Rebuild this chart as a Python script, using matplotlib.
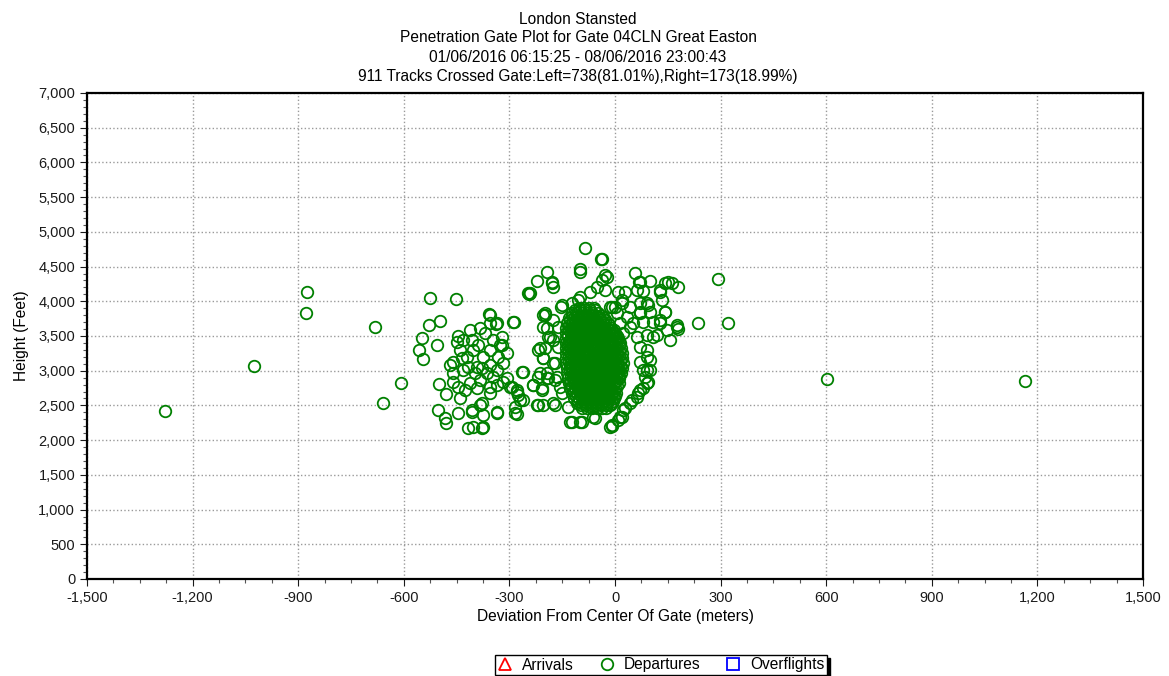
import matplotlib
matplotlib.use("Agg")
import matplotlib.pyplot as plt
from matplotlib.lines import Line2D
from matplotlib.ticker import FuncFormatter, MultipleLocator

plt.rcParams["font.family"] = ["Liberation Sans", "DejaVu Sans"]

title_lines = [
    "London Stansted",
    "Penetration Gate Plot for Gate 04CLN Great Easton",
    "01/06/2016 06:15:25 - 08/06/2016 23:00:43",
    "911 Tracks Crossed Gate:Left=738(81.01%),Right=173(18.99%)",
]

# departures well away from the gate centre, (deviation m, height ft)
outliers = [
    (-1278, 2419), (-1026, 3067), (-875, 4133), (-878, 3830), (-682, 3629),
    (-659, 2534), (-608, 2822), (602, 2880), (1165, 2851), (293, 4320),
    (321, 3686), (236, 3686),
]

# western group, roughly -560 m to -170 m
west_group = [
    (-526, 4046), (-452, 4032), (-528, 3658), (-497, 3715), (-548, 3470),
    (-557, 3298), (-545, 3168), (-506, 3370), (-500, 2808), (-480, 2664),
    (-503, 2434), (-483, 2318), (-480, 2246), (-446, 2390), (-418, 2174),
    (-403, 2189), (-378, 2174), (-406, 2405), (-378, 2534), (-355, 2678),
    (-335, 2390), (-375, 2362), (-440, 2606), (-460, 2837), (-469, 3082),
    (-446, 3499), (-449, 3413), (-412, 3586), (-383, 3614), (-358, 3816),
    (-338, 3672), (-355, 3686), (-369, 3542), (-327, 3370), (-307, 3254),
    (-318, 3110), (-403, 3298), (-420, 3197), (-432, 3010), (-392, 3053),
    (-364, 2966), (-347, 2909), (-383, 2866), (-412, 2822), (-318, 2837),
    (-298, 2765), (-278, 2722), (-276, 2650), (-261, 2578), (-284, 2477),
    (-278, 2376), (-261, 2981), (-287, 3701), (-244, 4104), (-222, 4291),
    (-193, 4421), (-179, 4277), (-176, 4205), (-205, 3802), (-219, 3298),
    (-205, 3182), (-219, 2909), (-233, 2794), (-207, 2750), (-219, 2506),
    (-176, 2534), (-193, 3614), (-176, 3442), (-170, 3110), (-193, 2966),
    (-170, 2866), (-460, 3125), (-435, 3182), (-418, 3053), (-398, 2966),
    (-378, 3038), (-355, 3082), (-335, 3010), (-332, 3197), (-375, 3197),
    (-389, 3370), (-406, 3442), (-432, 3442), (-440, 3298), (-355, 3298),
    (-347, 3442), (-321, 3485), (-460, 2966), (-446, 2765), (-426, 2722),
    (-392, 2750), (-355, 2765), (-335, 2794), (-307, 2894), (-247, 4118),
    (-355, 3802), (-335, 3686), (-290, 3701), (-199, 3802), (-321, 3370),
    (-264, 2981), (-293, 2765), (-278, 2693), (-270, 2578), (-284, 2390),
    (-335, 2405), (-383, 2506), (-406, 2434), (-375, 2189), (-222, 2506),
    (-233, 2794), (-213, 3326), (-213, 2966), (-193, 2894), (-190, 3485),
    (-153, 3917), (-241, 4118),
]

# scattered tracks around the main cluster
fringe = [
    (-85, 4766), (-40, 4608), (-99, 4464), (-23, 4349), (-28, 4162),
    (-71, 4133), (-105, 4018), (-9, 3917), (-37, 4608), (57, 4406),
    (68, 4277), (99, 4291), (80, 4147), (28, 4133), (128, 4133),
    (142, 4262), (151, 4277), (179, 4205), (134, 4018), (94, 3946),
    (142, 3845), (71, 3845), (0, 3917), (20, 4018), (176, 3629),
    (179, 3600), (156, 3442), (128, 3686), (108, 3485), (91, 3298),
    (99, 3154), (91, 3010), (94, 2837), (80, 2750), (65, 2678),
    (48, 2578), (28, 2462), (20, 2333), (9, 2290), (-9, 2203),
    (-128, 2261), (-94, 2261), (-57, 2318), (-14, 2189), (-179, 4262),
    (-99, 4421), (-28, 4378), (-37, 4306), (-51, 4205), (-99, 4061),
    (-150, 3946), (-122, 3974), (71, 4277), (63, 4162), (128, 4162),
    (162, 4262), (9, 4133), (-14, 3917), (20, 3974), (6, 3830),
    (43, 3917), (71, 3974), (91, 3974), (99, 3845), (71, 3830),
    (34, 3773), (51, 3686), (80, 3701), (108, 3701), (142, 3845),
    (128, 3730), (148, 3586), (176, 3658), (119, 3514), (91, 3514),
    (63, 3485), (43, 3629), (14, 3686), (23, 3542), (71, 3341),
    (91, 3197), (80, 3010), (91, 2822), (71, 2722), (63, 2621),
    (43, 2534), (23, 2434), (14, 2333), (-9, 2218), (-99, 2261),
    (-122, 2261), (-62, 2333), (-133, 2477), (-170, 2506), (-150, 2678),
    (-205, 2506), (-207, 2722), (-190, 2894), (-176, 3110), (-205, 3182),
    (-199, 3326), (-185, 3485), (-205, 3629), (-176, 3730), (-199, 3830),
    (-162, 3629), (-162, 3341), (-165, 2909), (-156, 2765), (71, 3125),
    (99, 3010), (85, 2909),
]

# dense core of departures, one entry per height band: (height ft, deviations m)
core_rows = [
    (3905, [-103, -89, -75, -61]),
    (3868, [-114, -100, -85, -71, -56]),
    (3832, [-121, -107, -93, -78, -64, -49]),
    (3795, [-123, -109, -94, -80, -66, -51, -38]),
    (3758, [-130, -116, -102, -87, -73, -59, -44, -31]),
    (3726, [-128, -113, -99, -85, -70, -56, -42, -28]),
    (3694, [-135, -121, -106, -92, -78, -63, -49, -35, -21]),
    (3655, [-131, -117, -102, -88, -74, -59, -45, -31, -17]),
    (3617, [-138, -124, -109, -95, -81, -66, -52, -38, -24, -10]),
    (3580, [-132, -118, -103, -89, -75, -60, -46, -32, -18, -4]),
    (3543, [-139, -125, -111, -96, -82, -68, -53, -39, -25, -11, 1]),
    (3505, [-133, -119, -104, -90, -76, -61, -47, -33, -19, -5, 6]),
    (3468, [-140, -126, -112, -97, -83, -69, -55, -40, -26, -12, 2, 9]),
    (3435, [-132, -118, -104, -89, -75, -61, -46, -32, -18, -3, 10]),
    (3402, [-139, -125, -110, -96, -82, -67, -53, -39, -24, -10, 4, 14]),
    (3364, [-133, -118, -104, -90, -75, -61, -47, -32, -18, -4, 10]),
    (3327, [-140, -126, -111, -97, -83, -68, -54, -40, -25, -11, 3, 18]),
    (3290, [-131, -117, -103, -88, -74, -60, -45, -31, -17, -2, 12]),
    (3253, [-138, -124, -110, -95, -81, -67, -52, -38, -24, -9, 5, 21]),
    (3218, [-132, -117, -103, -89, -74, -60, -46, -31, -17, -3, 12]),
    (3184, [-139, -125, -111, -96, -82, -68, -54, -39, -25, -11, 4, 20]),
    (3146, [-131, -117, -102, -88, -74, -59, -45, -31, -16, -2, 13]),
    (3108, [-138, -124, -109, -95, -81, -66, -52, -38, -23, -9, 6, 22]),
    (3075, [-129, -115, -101, -86, -72, -58, -43, -29, -15, 0, 13]),
    (3041, [-136, -122, -108, -93, -79, -65, -50, -36, -22, -7, 7, 19]),
    (3004, [-128, -114, -100, -85, -71, -57, -42, -28, -14, 1, 12]),
    (2967, [-135, -121, -107, -92, -78, -64, -49, -35, -21, -6, 8, 18]),
    (2930, [-126, -112, -98, -83, -69, -55, -41, -26, -12, 2, 12]),
    (2893, [-133, -119, -105, -90, -76, -62, -48, -33, -19, -5, 10]),
    (2857, [-124, -110, -95, -81, -67, -52, -38, -24, -9, 4]),
    (2822, [-130, -116, -102, -88, -73, -59, -45, -30, -16, -2, 11]),
    (2785, [-121, -107, -92, -78, -64, -49, -35, -21, -6, 6]),
    (2748, [-128, -114, -99, -85, -71, -56, -42, -28, -13, 1]),
    (2714, [-117, -103, -88, -74, -60, -45, -31, -17, -3]),
    (2681, [-122, -108, -94, -79, -65, -51, -36, -22, -8, 3]),
    (2642, [-112, -98, -84, -69, -55, -41, -26, -12, -1]),
    (2604, [-117, -103, -88, -74, -60, -45, -31, -17, -4]),
    (2570, [-105, -91, -76, -62, -48, -33, -19, -6]),
    (2537, [-108, -94, -80, -65, -51, -37, -22, -9]),
    (2499, [-96, -82, -67, -53, -39, -25, -13]),
    (2461, [-93, -79, -64, -50, -36, -25]),
]

dep_x = [p[0] for p in outliers + west_group + fringe]
dep_y = [p[1] for p in outliers + west_group + fringe]
for height, devs in core_rows:
    dep_x.extend(devs)
    dep_y.extend([height] * len(devs))

GREEN = "#008000"
MARKER = dict(linestyle="none", markersize=8.3, markerfacecolor="none",
              markeredgewidth=1.3)

fig = plt.figure(figsize=(11.69, 6.76), dpi=100)
ax = fig.add_axes([87 / 1169, 1 - 579 / 676, (1143 - 87) / 1169, (579 - 93) / 676])

ax.plot(dep_x, dep_y, marker="o", markeredgecolor=GREEN, clip_on=False,
        zorder=3, **MARKER)

ax.set_xlim(-1500, 1500)
ax.set_ylim(0, 7000)
ax.xaxis.set_major_locator(MultipleLocator(300))
ax.xaxis.set_minor_locator(MultipleLocator(75))
ax.yaxis.set_major_locator(MultipleLocator(500))
ax.yaxis.set_minor_locator(MultipleLocator(100))
thousands = FuncFormatter(lambda v, _: f"{int(v):,}")
ax.xaxis.set_major_formatter(thousands)
ax.yaxis.set_major_formatter(thousands)
ax.tick_params(which="major", direction="out", length=5, width=0.8,
               labelsize=10.5, colors="#1a1a1a")
ax.tick_params(which="minor", direction="out", length=3, width=0.8, colors="#555555")
ax.grid(True, which="major", linestyle=":", color="#9a9a9a", linewidth=1.0)
for spine in ax.spines.values():
    spine.set_linewidth(1.6)
    spine.set_color("black")

ax.set_xlabel("Deviation From Center Of Gate (meters)", fontsize=11.2, labelpad=3)
ax.set_ylabel("Height (Feet)", fontsize=11.2, labelpad=7)

for i, line in enumerate(title_lines):
    fig.text(578 / 1169, 1 - (19 + 19 * i) / 676, line, ha="center", va="center",
             fontsize=11.2)

handles = [
    Line2D([], [], marker="^", markeredgecolor="red", **MARKER),
    Line2D([], [], marker="o", markeredgecolor=GREEN, **MARKER),
    Line2D([], [], marker="s", markeredgecolor="blue", **MARKER),
]
leg = fig.legend(handles, ["Arrivals", "Departures", "Overflights"], ncol=3,
                 loc="center", bbox_to_anchor=(661 / 1169, 1 - 665 / 676),
                 frameon=True, fancybox=False,
                 shadow={"color": "black", "alpha": 1.0}, fontsize=11.2,
                 handlelength=1.0, handletextpad=0.6, columnspacing=1.6,
                 borderpad=0.15)
leg.get_frame().set_edgecolor("black")
leg.get_frame().set_linewidth(1.0)

fig.savefig("out.png", dpi=100)
